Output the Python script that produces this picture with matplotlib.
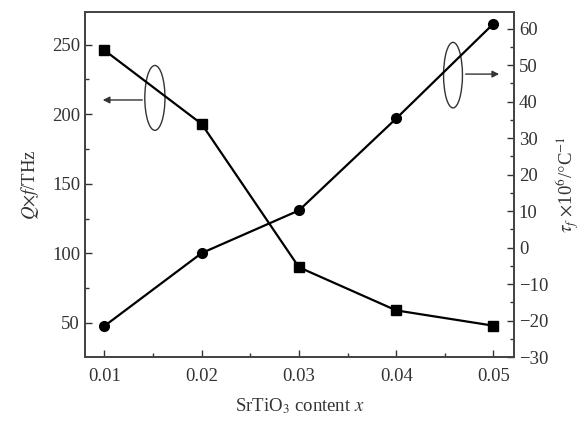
import matplotlib
matplotlib.use("Agg")
import matplotlib.pyplot as plt
from matplotlib.patches import Ellipse
from matplotlib.ticker import MultipleLocator, FormatStrFormatter

# Data
x_content = [0.01, 0.02, 0.03, 0.04, 0.05]
qf_values = [246, 193, 90, 59, 48]
tau_values = [-21.5, -1.5, 10.2, 35.4, 61.4]

plt.rcParams['font.family'] = ['Liberation Serif', 'DejaVu Serif']
plt.rcParams['mathtext.fontset'] = 'stix'

fig = plt.figure(figsize=(5.84, 4.21), dpi=100)
ax = fig.add_axes([0.1455, 0.152, 0.7345, 0.8195])
ax2 = ax.twinx()

fs = 13.5
ax.plot(x_content, qf_values, color='black', lw=1.6, marker='s', ms=6.5, zorder=3)
ax2.plot(x_content, tau_values, color='black', lw=1.6, marker='o', ms=7, zorder=3)

ax.set_xlim(0.008, 0.0521)
ax.set_ylim(25.5, 273.5)
ax2.set_ylim(-30, 64.6)

ax.xaxis.set_major_locator(MultipleLocator(0.01))
ax.xaxis.set_minor_locator(MultipleLocator(0.005))
ax.xaxis.set_major_formatter(FormatStrFormatter('%.2f'))
ax.yaxis.set_major_locator(MultipleLocator(50))
ax.yaxis.set_minor_locator(MultipleLocator(25))
ax2.yaxis.set_major_locator(MultipleLocator(10))
ax2.yaxis.set_minor_locator(MultipleLocator(5))

for a in (ax, ax2):
    a.tick_params(which='both', direction='in', labelsize=fs, colors='#333333', width=1.0)
    a.tick_params(which='major', length=5)
    a.tick_params(which='minor', length=3)
    for s in a.spines.values():
        s.set_linewidth(1.3)
        s.set_color('#444444')
ax.tick_params(axis='x', pad=8)

ax.set_xlabel(r'SrTiO$_3$ content $x$', fontsize=fs, color='#333333', labelpad=8)
ax.set_ylabel(r'$Q$$\times$$f$/THz', fontsize=fs, color='#333333', labelpad=8)
ax2.set_ylabel(r'$\tau_f$ $\times$10$^6$/$\degree$C$^{-1}$', fontsize=fs, color='#333333', labelpad=4)

# Ellipse markers with arrows (annotation in axes fraction)
e1 = Ellipse((0.163, 0.751), 0.047, 0.188, transform=ax.transAxes, fill=False, lw=1.0, ec='#333333')
ax.add_patch(e1)
ax.annotate('', xy=(0.035, 0.745), xytext=(0.14, 0.745), xycoords='axes fraction',
            arrowprops=dict(arrowstyle='-|>', color='#333333', lw=1.0, mutation_scale=10))
e2 = Ellipse((0.858, 0.817), 0.044, 0.19, transform=ax.transAxes, fill=False, lw=1.0, ec='#333333')
ax.add_patch(e2)
ax.annotate('', xy=(0.972, 0.82), xytext=(0.881, 0.82), xycoords='axes fraction',
            arrowprops=dict(arrowstyle='-|>', color='#333333', lw=1.0, mutation_scale=10))

fig.savefig('out.png', dpi=100)
